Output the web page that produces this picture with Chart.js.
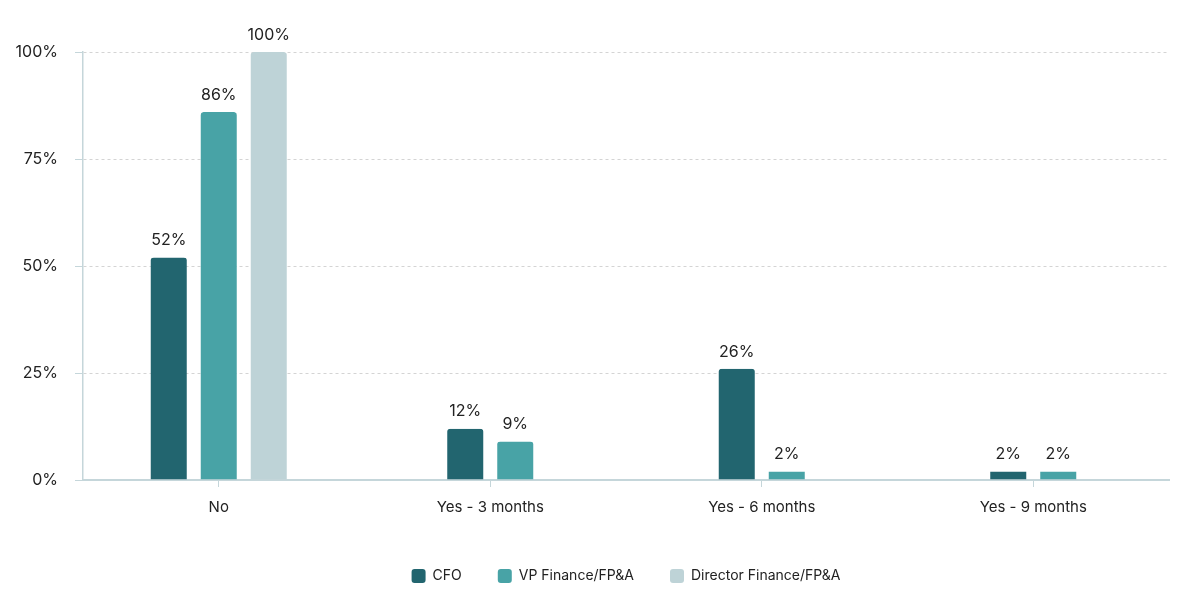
<!DOCTYPE html>
<html>
<head>
<meta charset="utf-8">
<script src="https://cdn.jsdelivr.net/npm/chart.js@4.4.0/dist/chart.umd.min.js"></script>
<style>
  html, body { margin: 0; padding: 0; background: #fff; }
  #wrap { width: 1188px; height: 598px; }
</style>
</head>
<body>
<div id="wrap"><canvas id="refinanceChart"></canvas></div>
<script>
// chart data
const categories = ['No', 'Yes - 3 months', 'Yes - 6 months', 'Yes - 9 months'];
const seriesNames = ['CFO', 'VP Finance/FP&A', 'Director Finance/FP&A'];
const cfoValues = [52, 12, 26, 2];
const vpValues = [86, 9, 2, 2];
const directorValues = [100, null, null, null];
const yTicks = [0, 25, 50, 75, 100];

const seriesColors = ['#22656f', '#48a3a6', '#bed3d7'];
const axisColor = '#c5d6da';
const textColor = '#222222';

Chart.defaults.font.family = 'Inter, "Noto Sans", sans-serif';
Chart.defaults.color = textColor;

function makeDataset(i, values) {
    return {
        label: seriesNames[i],
        data: values,
        backgroundColor: seriesColors[i],
        // transparent side borders leave the gap between bars in a group
        borderColor: 'rgba(0,0,0,0)',
        borderWidth: { left: 7, right: 7, top: 0, bottom: 0 },
        borderRadius: { topLeft: 10, topRight: 10 },
        barThickness: 50,
        inflateAmount: 0
    };
}

// value labels above each bar
const barLabels = {
    id: 'barLabels',
    afterDatasetsDraw(chart) {
        const ctx = chart.ctx;
        ctx.save();
        ctx.font = '16px Inter, "Noto Sans", sans-serif';
        ctx.fillStyle = textColor;
        ctx.textAlign = 'center';
        ctx.textBaseline = 'middle';
        chart.data.datasets.forEach((ds, i) => {
            chart.getDatasetMeta(i).data.forEach((bar, j) => {
                const v = ds.data[j];
                if (v === null || v === undefined) return;
                ctx.fillText(v + '%', bar.x, bar.y - 17);
            });
        });
        ctx.restore();
    }
};

new Chart(document.getElementById('refinanceChart'), {
    type: 'bar',
    data: {
        labels: categories,
        datasets: [
            makeDataset(0, cfoValues),
            makeDataset(1, vpValues),
            makeDataset(2, directorValues)
        ]
    },
    options: {
        responsive: true,
        maintainAspectRatio: false,
        animation: false,
        skipNull: true,
        layout: { padding: { top: 52, right: 19, bottom: 5, left: 0 } },
        scales: {
            x: {
                grid: { drawOnChartArea: false, offset: false, tickLength: 7, tickColor: axisColor, tickWidth: 1 },
                border: { color: axisColor, width: 2 },
                ticks: { color: textColor, font: { size: 15 }, padding: 11 },
                afterFit(scale) { scale.height = 53; }
            },
            y: {
                min: 0,
                max: 100,
                afterBuildTicks(scale) { scale.ticks = yTicks.map(v => ({ value: v })); },
                grid: { color: '#d4d4d4', tickColor: axisColor, tickLength: 8 },
                border: { color: axisColor, width: 1.5, dash: [3, 3] },
                ticks: { color: textColor, font: { size: 16 }, padding: 17, callback: v => v + '%' },
                afterFit(scale) { scale.width = 83; }
            }
        },
        plugins: {
            tooltip: { enabled: false },
            legend: {
                position: 'bottom',
                fullSize: false,
                labels: {
                    boxWidth: 14,
                    boxHeight: 14,
                    padding: 36,
                    color: textColor,
                    font: { size: 14 },
                    useBorderRadius: true,
                    borderRadius: 3,
                    generateLabels(chart) {
                        return chart.data.datasets.map((ds, i) => ({
                            text: ds.label,
                            fillStyle: ds.backgroundColor,
                            strokeStyle: 'rgba(0,0,0,0)',
                            lineWidth: 0,
                            borderRadius: 3,
                            fontColor: textColor,
                            hidden: false,
                            datasetIndex: i
                        }));
                    }
                }
            }
        }
    },
    plugins: [barLabels]
});
</script>
</body>
</html>
